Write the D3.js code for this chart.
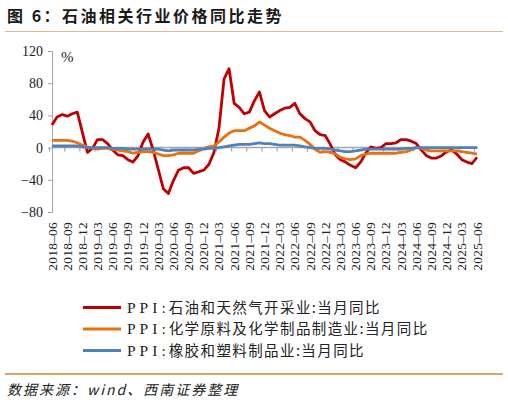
<!DOCTYPE html>
<html>
<head>
<meta charset="utf-8">
<script src="https://cdn.jsdelivr.net/npm/d3@7"></script>
<style>
  html, body { margin: 0; padding: 0; background: #fff; }
  svg { display: block; }
</style>
</head>
<body>
<svg id="chart" width="508" height="404"></svg>
<script>
// Monthly data, 2018-06 .. 2025-06 (85 points), YoY %
var START = new Date(2018, 5, 1), END = new Date(2025, 6, 1);
var MONTHS = d3.timeMonth.range(START, END).map(d3.timeFormat("%Y-%m"));

var OIL = [28, 38, 41, 39, 42, 44, 19, -6, -1, 10, 10, 5, -3, -9, -10, -15, -18, -10, 7, 17,
  -3, -27, -51, -57, -41, -28, -25, -25, -32, -30, -28, -21, -6, 24, 85, 98, 55, 50, 42, 44,
  58, 69, 46, 38, 42, 46, 49, 50, 55, 42, 36, 32, 21, 16, 15, 4, -9, -15, -18, -22,
  -25, -18, -7, 1, -1, 0, 5, 5, 6, 10, 10, 8, 5, -3, -10, -13, -13, -10, -5, -3,
  -8, -15, -18, -20, -12];
var CHEM = [9, 9, 9, 9, 8, 6, 3, 1, -1, -2, -1, -1, -2, -3, -4, -5, -7, -6, -5, -5,
  -6, -8, -10, -10, -9, -7, -7, -7, -7, -4, -1, 1, 2, 7, 13, 18, 21, 21, 21, 24,
  27, 32, 28, 24, 21, 18, 16, 15, 13, 13, 9, 4, -2, -6, -5, -6, -8, -12, -14, -15,
  -14, -10, -8, -7, -7, -7, -7, -7, -7, -6, -5, -3, 0, -1, -3, -4, -4, -4, -4, -4,
  -4, -5, -6, -7, -8];
var RUBBER = [2, 2, 2, 2, 2, 2, 1, 0, 0, 0, 0, 0, -1, -1, -1, -2, -2, -2, -2, -2,
  -2, -2, -3, -4, -3, -3, -3, -3, -3, -2, -2, -1, -1, 0, 1, 2, 3, 4, 4, 4,
  5, 6, 5, 5, 4, 3, 3, 3, 3, 2, 1, 0, -1, -1, -1, -2, -3, -4, -5, -5,
  -4, -3, -2, -2, -2, -2, -2, -2, -2, -2, -1, -1, 0, 0, 0, 0, 0, 0, 0, 0,
  0, 0, 0, 0, 0];

var Y_TICKS = [-80, -40, 0, 40, 80, 120];
var X_TICKS = MONTHS.filter(function (m, i) { return i % 3 === 0; });

var SERIES = [
  { name: "石油和天然气开采业:当月同比", values: OIL, color: "#c00000" },
  { name: "化学原料及化学制品制造业:当月同比", values: CHEM, color: "#ea700d" },
  { name: "橡胶和塑料制品业:当月同比", values: RUBBER, color: "#4f81bd" }
];

var CJK = "'Noto Sans CJK SC', sans-serif";
var SERIF = "'Liberation Serif', 'DejaVu Serif', serif";

var svg = d3.select("#chart");

// title + rule
svg.append("text").attr("x", 7).attr("y", 22)
  .attr("font-family", CJK).attr("font-weight", 700).attr("font-size", 16)
  .attr("letter-spacing", 2.5).attr("fill", "#1a1a1a")
  .text("图 6：石油相关行业价格同比走势");
svg.append("line").attr("x1", 5).attr("x2", 503).attr("y1", 31.5).attr("y2", 31.5)
  .attr("stroke", "#e2b98e").attr("stroke-width", 1);

var x = d3.scalePoint().domain(MONTHS).range([52, 477]);
var y = d3.scaleLinear().domain([-80, 120]).range([212, 51]);
var step = x.step();

// y axis
var yAxis = svg.append("g").attr("transform", "translate(52,0)")
  .call(d3.axisLeft(y).tickValues(Y_TICKS).tickSize(4).tickPadding(5)
    .tickFormat(function (d) { return d < 0 ? "\u2212" + Math.abs(d) : d; }));
yAxis.select(".domain").attr("stroke", "#a6a6a6");
yAxis.selectAll(".tick line").attr("stroke", "#a6a6a6");
yAxis.selectAll("text").attr("font-family", SERIF).attr("font-size", 14).attr("fill", "#222");

svg.append("text").attr("x", 61).attr("y", 62)
  .attr("font-family", SERIF).attr("font-size", 15).attr("fill", "#222").text("%");

// x axis on the zero line
var xg = svg.append("g").attr("transform", "translate(0," + y(0) + ")");
xg.append("line").attr("x1", 52).attr("x2", 478).attr("y1", 0).attr("y2", 0)
  .attr("stroke", "#a6a6a6").attr("stroke-width", 1.5);
xg.selectAll("line.tk").data(X_TICKS).join("line").attr("class", "tk")
  .attr("x1", function (d) { return x(d) - step * 0.5; })
  .attr("x2", function (d) { return x(d) - step * 0.5; })
  .attr("y1", 0).attr("y2", 4).attr("stroke", "#a6a6a6").attr("stroke-width", 1.2);

// x tick labels (rotated, at the bottom)
svg.append("g").selectAll("text").data(X_TICKS).join("text")
  .attr("transform", function (d) { return "translate(" + (x(d) + 4.5) + ",222) rotate(-90)"; })
  .attr("text-anchor", "end")
  .attr("font-family", SERIF).attr("font-size", 13.5).attr("letter-spacing", 0.2).attr("fill", "#222")
  .text(function (d) { return d.replace("-", "\u2013"); });

// lines (blue drawn last, on top)
var line = d3.line()
  .x(function (d, i) { return x(MONTHS[i]); })
  .y(function (d) { return y(d); });
SERIES.forEach(function (s) {
  svg.append("path").datum(s.values).attr("d", line)
    .attr("fill", "none").attr("stroke", s.color).attr("stroke-width", 2.8)
    .attr("stroke-linejoin", "round");
});

// legend
var lg = svg.append("g").selectAll("g").data(SERIES).join("g")
  .attr("transform", function (d, i) { return "translate(83," + (307.5 + i * 21.5) + ")"; });
lg.append("line").attr("x1", 0).attr("x2", 38).attr("y1", 0).attr("y2", 0)
  .attr("stroke", function (d) { return d.color; }).attr("stroke-width", 3);
var lt = lg.append("text").attr("x", 44).attr("y", 5).attr("font-size", 14.5).attr("fill", "#222");
lt.append("tspan").attr("font-family", SERIF).attr("font-size", 15.5).attr("letter-spacing", 4).text("PPI:");
lt.append("tspan").attr("font-family", CJK).attr("dx", -1).attr("letter-spacing", 1.4)
  .text(function (d) { return d.name; });

// bottom rule + source
svg.append("line").attr("x1", 5).attr("x2", 503).attr("y1", 374).attr("y2", 374)
  .attr("stroke", "#d6a866").attr("stroke-width", 2);
svg.append("text").attr("x", 7).attr("y", 395)
  .attr("font-family", CJK).attr("font-style", "italic").attr("font-size", 14)
  .attr("letter-spacing", 2).attr("fill", "#222")
  .text("数据来源：wind、西南证券整理");
</script>
</body>
</html>
